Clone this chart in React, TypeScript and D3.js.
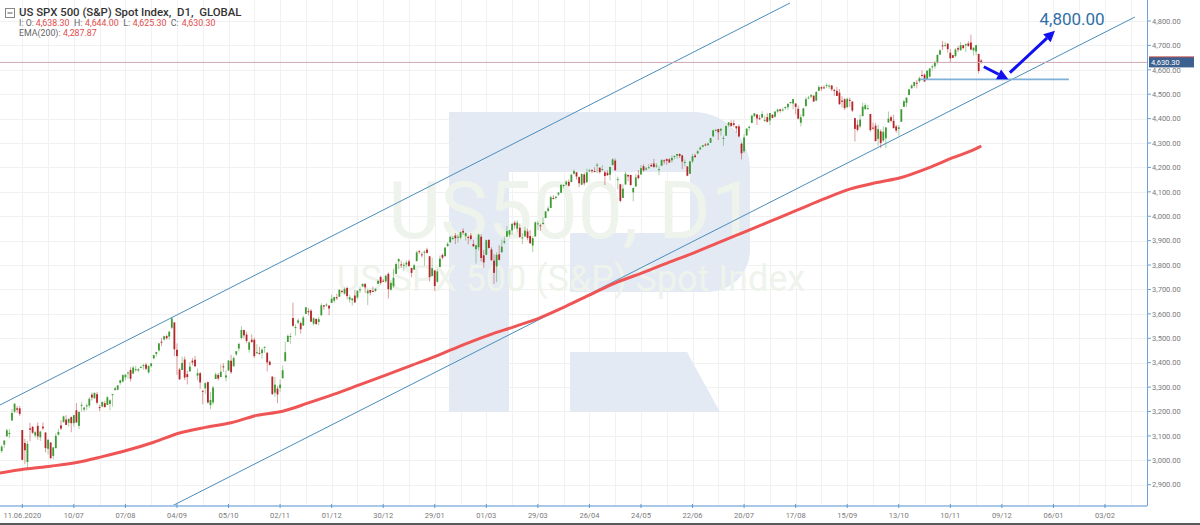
import React from "react";
import * as d3 from "d3";

// ---- Daily candles, 29.05.2020 .. 29.11.2021 (bar index -9 .. 372, index 0 = 11.06.2020)
const FIRST_INDEX = -9;

const opens = [
  3025,
  3038,3064,3098,3112,3163,3199,3213,3213,3124,3071,2993,3131,3137,3102,3141,3094,3138,3114,3047,3073,3018,3050,
  3105,3143,3156,3167,3154,3177,3152,3205,3141,3226,3208,3225,3224,3269,3254,3271,3218,3220,3234,3227,3231,3270,
  3288,3289,3317,3323,3340,3356,3370,3355,3372,3368,3380,3388,3392,3360,3386,3418,3436,3450,3486,3495,3509,
  3507,3543,3565,3453,3372,3370,3413,3353,3364,3408,3412,3347,3357,3285,3295,3320,3226,3237,3333,3350,3341,
  3385,3339,3368,3408,3385,3434,3458,3501,3534,3515,3453,3494,3494,3439,3440,3439,3464,3441,3404,3343,3277,3294,
  3296,3336,3406,3485,3508,3583,3544,3564,3562,3552,3600,3611,3613,3560,3579,3567,3594,3635,3638,3634,
  3645,3654,3668,3670,3694,3683,3706,3659,3656,3675,3667,3696,3713,3722,3684,3698,3694,3694,3723,3751,3736,3733,
  3764,3699,3713,3764,3815,3803,3801,3802,3815,3788,3781,3816,3857,3844,3851,3863,3836,3755,3778,
  3732,3792,3841,3837,3878,3893,3910,3921,3916,3912,3940,3918,3915,3921,3886,3865,3873,3916,3840,
  3842,3903,3864,3818,3794,3844,3852,3892,3916,3925,3942,3974,3949,3953,3913,3917,3938,3919,3880,3917,3970,3963,3968,
  3993,4022,4034,4075,4075,4089,4096,4124,4130,4141,4140,4174,4180,4160,4129,4171,4139,4186,4189,4185,4207,4199,
  4192,4180,4178,4170,4210,4228,4150,4131,4075,4130,4169,4169,4098,4122,4168,4171,4205,4191,4201,4210,
  4216,4207,4191,4207,4229,4234,4233,4229,4243,4248,4255,4249,4220,4204,4174,4225,4249,4257,4274,4285,4294,4291,
  4301,4327,4352,4357,4351,4321,4330,4373,4382,4381,4369,4368,4297,4266,4331,4362,4382,4410,4417,4402,4404,4395,
  4406,4392,4416,4408,4429,4438,4436,4443,4447,4464,4462,4462,4440,4383,4410,4451,4484,4490,4494,4474,4514,4529,
  4528,4534,4532,4536,4518,4514,4506,4474,4479,4447,4477,4470,4402,4375,4368,4410,4439,4443,4419,4363,4371,
  4317,4348,4310,4319,4384,4406,4391,4368,4358,4387,4448,4464,4497,4524,4534,4547,4553,4579,4580,4562,4572,
  4610,4614,4631,4662,4700,4702,4707,4670,4660,4656,4689,4680,4701,4700,4708,4712,4679,4675,4665,4638.3,
];

const highs = [
  3049,
  3063,3081,3130,3128,3211,3233,3222,3223,3124,3088,3080,3154,3141,3121,3155,3121,3155,3115,3087,3073,3054,3111,
  3129,3165,3183,3185,3172,3180,3186,3235,3200,3238,3220,3233,3259,3278,3279,3280,3228,3242,3244,3264,3250,3272,
  3302,3307,3330,3352,3352,3364,3381,3387,3387,3378,3388,3396,3399,3391,3399,3432,3444,3481,3501,3510,3514,
  3529,3588,3565,3479,3379,3425,3425,3368,3403,3419,3428,3376,3362,3286,3321,3323,3279,3306,3360,3358,3393,
  3398,3369,3409,3432,3426,3447,3482,3550,3534,3527,3489,3516,3502,3476,3465,3461,3466,3441,3409,3343,3341,3305,
  3331,3389,3486,3515,3521,3646,3557,3581,3569,3593,3628,3624,3620,3586,3582,3589,3643,3635,3644,3634,
  3679,3670,3682,3699,3698,3708,3712,3678,3665,3698,3695,3711,3725,3727,3702,3698,3712,3703,3740,3757,3744,3760,
  3770,3738,3784,3811,3827,3818,3810,3820,3823,3789,3805,3859,3862,3853,3860,3871,3836,3830,3778,
  3784,3839,3848,3872,3894,3916,3919,3931,3925,3937,3951,3933,3921,3931,3903,3881,3928,3926,3862,
  3904,3906,3873,3844,3852,3881,3904,3917,3960,3944,3971,3982,3984,3970,3930,3956,3949,3943,3919,3979,3981,3969,3995,
  4020,4040,4084,4087,4083,4098,4129,4131,4148,4151,4174,4192,4181,4164,4176,4179,4195,4194,4193,4201,4218,4199,
  4209,4187,4188,4202,4238,4237,4162,4134,4131,4183,4172,4170,4117,4173,4189,4210,4213,4202,4213,4218,
  4235,4217,4204,4234,4233,4237,4239,4249,4249,4255,4258,4252,4233,4204,4226,4256,4256,4272,4287,4292,4300,4302,
  4321,4355,4358,4359,4362,4331,4372,4386,4393,4394,4370,4376,4302,4337,4360,4371,4415,4423,4418,4415,4430,4412,
  4422,4423,4418,4430,4441,4440,4445,4449,4461,4468,4480,4462,4454,4418,4444,4489,4493,4501,4495,4513,4537,4532,
  4537,4545,4541,4536,4522,4529,4521,4492,4485,4486,4486,4471,4402,4394,4417,4465,4463,4457,4419,4383,4383,
  4375,4356,4369,4365,4429,4413,4416,4375,4373,4439,4476,4488,4520,4540,4551,4559,4573,4598,4585,4598,4608,
  4621,4636,4664,4684,4718,4714,4709,4685,4660,4688,4697,4714,4701,4708,4717,4744,4691,4702,4665,4644,
];

const lows = [
  2999,
  3031,3051,3098,3091,3163,3193,3194,3181,3000,2984,2966,3077,3108,3093,3084,3079,3123,3033,3024,3004,3004,3048,
  3101,3124,3156,3145,3138,3115,3136,3153,3128,3200,3199,3206,3216,3245,3252,3229,3201,3220,3216,3227,3205,3220,
  3285,3287,3310,3319,3329,3335,3323,3355,3363,3361,3379,3371,3369,3355,3380,3414,3425,3445,3468,3490,3494,
  3494,3536,3427,3350,3329,3370,3329,3311,3364,3389,3384,3328,3293,3230,3271,3232,3210,3228,3333,3327,3341,
  3362,3323,3367,3354,3385,3428,3446,3495,3500,3480,3441,3483,3419,3435,3433,3416,3440,3364,3388,3268,3259,3234,
  3279,3336,3406,3485,3477,3547,3511,3557,3519,3552,3600,3594,3567,3553,3556,3553,3594,3617,3630,3594,
  3645,3645,3657,3670,3684,3678,3660,3645,3634,3645,3660,3686,3710,3685,3636,3676,3689,3689,3723,3720,3730,3726,
  3663,3695,3706,3764,3783,3789,3777,3792,3792,3750,3781,3816,3846,3831,3797,3847,3733,3755,3694,
  3726,3792,3823,3832,3874,3892,3903,3886,3891,3906,3924,3901,3885,3901,3874,3806,3860,3815,3789,
  3842,3867,3818,3723,3730,3819,3852,3886,3916,3915,3924,3949,3935,3910,3886,3917,3901,3889,3853,3917,3944,3940,3966,
  3992,4018,4034,4069,4069,4083,4095,4115,4124,4121,4140,4171,4150,4119,4127,4126,4139,4182,4176,4182,4177,4175,
  4188,4128,4166,4147,4208,4188,4111,4057,4075,4130,4143,4125,4061,4122,4151,4171,4182,4187,4195,4203,
  4198,4198,4168,4207,4213,4211,4219,4220,4233,4235,4238,4194,4203,4164,4174,4218,4241,4256,4271,4281,4287,4289,
  4301,4327,4348,4312,4330,4289,4330,4365,4369,4366,4341,4323,4233,4259,4329,4351,4382,4406,4374,4394,4404,4386,
  4384,4373,4401,4404,4423,4425,4430,4436,4436,4461,4438,4417,4397,4368,4406,4451,4482,4485,4468,4472,4514,4514,
  4522,4525,4522,4513,4494,4493,4457,4446,4435,4443,4448,4427,4306,4347,4360,4410,4436,4437,4346,4355,4307,
  4288,4279,4305,4279,4384,4385,4360,4342,4330,4387,4448,4447,4496,4524,4526,4524,4547,4569,4551,4562,4568,
  4596,4604,4621,4662,4681,4694,4670,4630,4649,4651,4673,4679,4684,4672,4694,4680,4659,4660,4585,4625.3,
];

const closes = [
  3044,
  3056,3081,3123,3112,3194,3232,3207,3190,3002,3041,3067,3125,3113,3115,3098,3118,3131,3050,3084,3009,3053,3100,
  3116,3130,3180,3145,3170,3152,3185,3155,3198,3227,3216,3225,3252,3257,3276,3236,3216,3239,3218,3258,3246,3271,
  3295,3307,3328,3349,3351,3360,3334,3380,3373,3373,3382,3390,3375,3386,3397,3431,3444,3479,3485,3508,3500,
  3527,3581,3455,3427,3332,3399,3339,3341,3384,3401,3385,3357,3319,3281,3316,3237,3247,3298,3352,3335,3363,
  3381,3348,3409,3361,3419,3447,3477,3534,3512,3489,3483,3484,3427,3443,3436,3453,3465,3401,3391,3271,3310,3270,
  3310,3369,3443,3510,3509,3551,3546,3573,3537,3585,3627,3610,3568,3582,3558,3578,3635,3630,3638,3622,
  3662,3669,3667,3699,3692,3702,3673,3668,3663,3647,3695,3701,3722,3709,3695,3687,3690,3703,3735,3727,3732,3756,
  3701,3727,3748,3804,3825,3800,3801,3810,3796,3768,3799,3852,3853,3841,3855,3850,3751,3787,3714,
  3774,3826,3830,3872,3887,3916,3911,3910,3916,3935,3933,3931,3914,3907,3877,3881,3925,3829,3811,
  3902,3870,3820,3768,3842,3821,3875,3899,3939,3943,3969,3963,3974,3915,3913,3941,3911,3889,3910,3975,3971,3959,3973,
  4020,4032,4078,4074,4080,4097,4129,4128,4142,4125,4170,4185,4163,4135,4173,4135,4180,4188,4187,4183,4211,4181,
  4193,4165,4168,4202,4233,4188,4152,4063,4113,4174,4163,4128,4116,4159,4156,4197,4188,4196,4201,4204,
  4202,4208,4193,4230,4227,4227,4220,4239,4247,4255,4247,4224,4222,4166,4225,4246,4242,4266,4281,4291,4292,4298,
  4320,4352,4354,4344,4358,4321,4370,4385,4369,4374,4360,4327,4258,4323,4359,4367,4412,4422,4401,4401,4419,4395,
  4387,4423,4403,4429,4437,4432,4437,4448,4461,4468,4480,4448,4400,4406,4442,4480,4486,4496,4470,4509,4529,4523,
  4524,4537,4535,4520,4514,4493,4459,4469,4443,4481,4474,4433,4358,4354,4396,4449,4455,4443,4353,4359,4308,
  4357,4300,4346,4364,4400,4391,4361,4351,4364,4438,4471,4486,4520,4536,4550,4545,4566,4575,4552,4596,4605,
  4614,4631,4661,4680,4698,4702,4685,4647,4649,4683,4683,4701,4689,4705,4698,4683,4691,4701,4595,4630.3,
];

// ---- EMA(200) line, read every 10 bars (bar index, value)
const emaIndex = [-9,1,11,21,31,41,51,61,71,81,91,101,111,121,131,141,151,161,171,181,191,201,211,221,231,241,251,261,271,281,291,301,311,321,331,341,351,361,371,372];
const emaValues = [2947,2964,2976,2991,3015,3042,3074,3112,3135,3154,3184,3201,3235,3271,3310,3349,3389,3429,3473,3513,3548,3585,3632,3682,3731,3770,3812,3852,3896,3939,3983,4027,4071,4111,4137,4159,4196,4240,4282,4287.87];

// ---- Axis ticks
const TICK_STEP = 20;
const dateTickLabels = [
  "11.06.2020","10/07","07/08","04/09","05/10","02/11","01/12","30/12","29/01","01/03","29/03",
  "26/04","24/05","22/06","20/07","17/08","15/09","13/10","10/11","09/12","06/01","03/02",
];
const priceTicks = [2900,3000,3100,3200,3300,3400,3500,3600,3700,3800,3900,4000,4100,4200,4300,4400,4500,4600,4700,4800];

// ---- Header values
const lastOHLC = { o: "4,638.30", h: "4,644.00", l: "4,625.30", c: "4,630.30" };
const lastPrice = 4630.3;
const emaLabel = "4,287.87";

// ---- Drawn annotations (bar index, price)
const upperChannel: [number, number][] = [[-8.65, 3226.6], [297.8, 4873.7]];
const lowerChannel: [number, number][] = [[58.07, 2812.8], [431.6, 4816.3]];
const supportLine: [number, number][] = [[348.2, 4561], [406.0, 4561]];
const arrowDown: [number, number][] = [[373.0, 4612.7], [382.5, 4561.1]];
const arrowUp: [number, number][] = [[383.1, 4588.1], [400.6, 4760.2]];
const targetPrice = 4800;
const targetText = "4,800.00";

const FONT = "Roboto, 'Noto Sans', sans-serif";

export default function App() {
  const W = 1200, H = 525;
  const plotRight = 1147, plotBottom = 506;
  const x = d3.scaleLinear().domain([-8.65, 436.3]).range([0, plotRight]);
  const y = d3.scaleLinear().domain([3000, 4800]).range([460.3, 21]);

  const emaLine = d3
    .line<number>()
    .x((_, i) => x(emaIndex[i]))
    .y((v) => y(v))
    .curve(d3.curveMonotoneX);

  const gridX = d3.range(0, 440, 10);
  const tickIdx = dateTickLabels.map((_, i) => i * TICK_STEP);

  const up = "#3d9b33", dn = "#b3262a";
  const bw = 1.8;

  const arrow = (pts: [number, number][], key: string) => {
    const [x0, y0] = [x(pts[0][0]), y(pts[0][1])];
    const [x1, y1] = [x(pts[1][0]), y(pts[1][1])];
    const ang = Math.atan2(y1 - y0, x1 - x0);
    const hl = 11, hw = 5.5;
    const bx = x1 - hl * Math.cos(ang), by = y1 - hl * Math.sin(ang);
    const px = -Math.sin(ang), py = Math.cos(ang);
    return (
      <g key={key}>
        <line x1={x0} y1={y0} x2={bx} y2={by} stroke="#1010f0" strokeWidth={3} />
        <path d={`M${x1},${y1}L${bx + px * hw},${by + py * hw}L${bx - px * hw},${by - py * hw}Z`} fill="#1010f0" />
      </g>
    );
  };

  const red = "#e14c4c", grey = "#666";
  const yLast = y(lastPrice);

  return (
    <svg width={W} height={H} style={{ position: "absolute", left: 0, top: 0, background: "#fff" }} fontFamily={FONT}>
      <defs>
        <clipPath id="plot"><rect x={0} y={0} width={plotRight} height={plotBottom} /></clipPath>
      </defs>
      <rect x={0} y={0} width={W} height={H} fill="#fff" />
      <g stroke="#f1f1f1" strokeWidth={1}>
        {priceTicks.map((p) => <line key={p} x1={0} x2={plotRight} y1={Math.round(y(p)) + 0.5} y2={Math.round(y(p)) + 0.5} />)}
        {gridX.map((i) => <line key={i} x1={Math.round(x(i)) + 0.5} x2={Math.round(x(i)) + 0.5} y1={0} y2={plotBottom} />)}
      </g>
      {/* watermark logo */}
      <g fill="#e4eaf3">
        <rect x={449} y={112} width={60} height={300} />
        <path d="M449,112 H693 A57,57 0 0 1 750,169 V250 A42,42 0 0 1 708,292 H570 V233 H690 V172 H449 Z" />
        <path d="M570,352 H687 L720,412 H570 Z" />
      </g>
      <g fill="#eef3ec" textAnchor="middle">
        <text x={572} y={238} fontSize={80}>US500, D1</text>
        <text x={571} y={291} fontSize={36}>US SPX 500 (S&amp;P) Spot Index</text>
      </g>
      <g clipPath="url(#plot)">
        {[upperChannel, lowerChannel].map((l, i) => (
          <line key={i} x1={x(l[0][0])} y1={y(l[0][1])} x2={x(l[1][0])} y2={y(l[1][1])} stroke="#4a8dbd" strokeWidth={1} />
        ))}
        <path d={emaLine(emaValues) || ""} fill="none" stroke="#f05555" strokeWidth={3} />
        {closes.map((c, i) => {
          const o = opens[i];
          const cx = x(i + FIRST_INDEX);
          const col = c >= o ? up : dn;
          const top = y(Math.max(o, c)), bot = y(Math.min(o, c));
          return (
            <g key={i}>
              <line x1={cx} x2={cx} y1={y(highs[i])} y2={y(lows[i])} stroke={col} strokeOpacity={0.45} strokeWidth={1} />
              <rect x={cx - bw / 2} y={top} width={bw} height={Math.max(1, bot - top)} fill={col} />
            </g>
          );
        })}
        <line x1={0} x2={plotRight} y1={yLast} y2={yLast} stroke="#cfa8b4" strokeWidth={1} />
        <line x1={x(supportLine[0][0])} x2={x(supportLine[1][0])} y1={y(supportLine[0][1])} y2={y(supportLine[1][1])} stroke="#7fb0d8" strokeWidth={1.6} />
        {arrow(arrowDown, "a1")}
        {arrow(arrowUp, "a2")}
        <text x={x(394.6)} y={y(targetPrice) + 4} fontSize={17} fill="#2f6fa5">{targetText}</text>
      </g>
      <line x1={plotRight + 0.5} x2={plotRight + 0.5} y1={0} y2={plotBottom} stroke="#6ea2d6" strokeWidth={1} />
      {priceTicks.map((p) => (
        <g key={p}>
          <line x1={plotRight} x2={plotRight + 4} y1={y(p)} y2={y(p)} stroke="#6ea2d6" />
          <text x={plotRight + 5} y={y(p) + 2.7} fontSize={7.5} fill="#7a7a7a">{d3.format(",.2f")(p)}</text>
        </g>
      ))}
      <rect x={plotRight + 2} y={yLast - 5.5} width={45} height={10.5} fill="#3c6190" />
      <line x1={plotRight + 2} x2={plotRight + 47} y1={yLast - 5.5} y2={yLast - 5.5} stroke="#c05050" />
      <text x={plotRight + 4} y={yLast + 2.7} fontSize={7.5} fill="#fff">{d3.format(",.2f")(lastPrice)}</text>
      <line x1={0} x2={plotRight} y1={plotBottom} y2={plotBottom} stroke="#a9c8e8" strokeWidth={2} />
      {tickIdx.map((t, i) => (
        <g key={t}>
          <line x1={x(t)} x2={x(t)} y1={plotBottom - 2} y2={plotBottom + 2} stroke="#5f97d0" />
          <text x={x(t)} y={518} fontSize={7.5} fill="#7a7a7a" textAnchor="middle">{dateTickLabels[i]}</text>
        </g>
      ))}
      <rect x={0} y={523} width={W} height={2} fill="#5a5a5a" />
      <rect x={5.5} y={8.5} width={9} height={9} fill="#fff" stroke="#888" />
      <line x1={7.5} x2={12.5} y1={13} y2={13} stroke="#555" />
      <text x={19} y={15.5} fontSize={11.4} fontWeight={500} fill="#333" style={{ whiteSpace: "pre" }}>{"US SPX 500 (S&P) Spot Index,  D1,  GLOBAL"}</text>
      <g fontSize={8.8}>
        <text x={19} y={26.3} fill={grey}>I: O:</text>
        <text x={35.7} y={26.3} fill={red}>{lastOHLC.o}</text>
        <text x={74} y={26.3} fill={grey}>H:</text>
        <text x={85} y={26.3} fill={red}>{lastOHLC.h}</text>
        <text x={123.3} y={26.3} fill={grey}>L:</text>
        <text x={132.7} y={26.3} fill={red}>{lastOHLC.l}</text>
        <text x={170.7} y={26.3} fill={grey}>C:</text>
        <text x={181.7} y={26.3} fill={red}>{lastOHLC.c}</text>
        <text x={19} y={35.5} fill={grey}>EMA(200):</text>
        <text x={63} y={35.5} fill={red}>{emaLabel}</text>
      </g>
    </svg>
  );
}
